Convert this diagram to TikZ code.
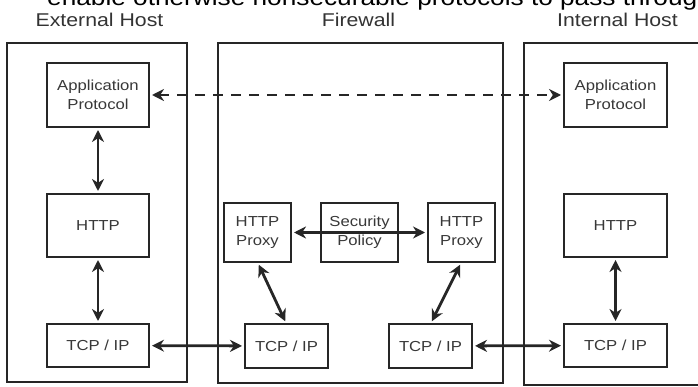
\documentclass[tikz,border=0pt]{standalone}
\usepackage{fontspec}
\setmainfont{Liberation Sans}[FakeStretch=1.15]
\usepackage{xcolor}
\definecolor{linecolor}{HTML}{262626}
\definecolor{textcolor}{HTML}{383838}
\definecolor{titlecolor}{HTML}{333333}
\usetikzlibrary{positioning,arrows.meta}
\tikzset{
    hostbox/.style={
        rectangle,
        draw=linecolor,
        line width=2.2pt,
        inner sep=0pt,
        outer sep=0pt,
    },
    layer/.style={
        rectangle,
        draw=linecolor,
        fill=white,
        text=textcolor,
        line width=2.6pt,
        inner sep=0pt,
        outer sep=0pt,
        align=center,
        font=\fontsize{14.5}{19}\selectfont,
    },
    title/.style={
        text=titlecolor,
        anchor=base,
        inner sep=0pt,
        font=\fontsize{18.5}{22}\selectfont,
    },
    link/.style={
        {Stealth[length=12pt,width=12pt]}-{Stealth[length=12pt,width=12pt]},
        line width=2.8pt,
        linecolor,
        shorten <=3pt,
        shorten >=3pt,
    },
    tunnel/.style={
        link,
        dash pattern=on 10pt off 8pt,
    },
}

\begin{document}
\begin{tikzpicture}[x=1pt,y=-1pt]
    \useasboundingbox (0,0) rectangle (698,387);
    \begin{scope}
    \clip (0,0) rectangle (698,387);

    \node[anchor=base west, inner sep=0pt, font=\fontsize{22.8}{26}\selectfont] (caption) at (47,6) {enable otherwise nonsecurable protocols to pass through};

    \node[title] (exttitle) at (99.5,27) {External Host};
    \node[title] (fwtitle) at (358.5,27) {Firewall};
    \node[title] (inttitle) at (617.5,27) {Internal Host};

    \node[hostbox, minimum width=180pt, minimum height=339pt] (exthost) at (97,212.5) {};
    \node[hostbox, minimum width=285pt, minimum height=340pt] (fwhost) at (360.5,213) {};
    \node[hostbox, minimum width=200pt, minimum height=342pt] (inthost) at (624,214) {};

    \node[layer, minimum width=102pt, minimum height=64pt] (extapp) at (98,95) {Application\\Protocol};
    \node[layer, minimum width=102pt, minimum height=63pt] (exthttp) at (98,225.5) {HTTP};
    \node[layer, minimum width=102pt, minimum height=43pt] (exttcp) at (98,345.5) {TCP / IP};

    \node[layer, minimum width=103pt, minimum height=64pt] (intapp) at (615.5,95) {Application\\Protocol};
    \node[layer, minimum width=103pt, minimum height=63pt] (inthttp) at (615.5,225.5) {HTTP};
    \node[layer, minimum width=103pt, minimum height=43pt] (inttcp) at (615.5,345.5) {TCP / IP};

    \node[layer, minimum width=67pt, minimum height=59pt] (proxyl) at (257.5,232.5) {HTTP\\Proxy};
    \node[layer, minimum width=77pt, minimum height=59pt] (policy) at (359.5,232.5) {Security\\Policy};
    \node[layer, minimum width=67pt, minimum height=59pt] (proxyr) at (461.5,232.5) {HTTP\\Proxy};
    \node[layer, minimum width=83pt, minimum height=44pt] (fwtcpl) at (286.5,346) {TCP / IP};
    \node[layer, minimum width=83pt, minimum height=44pt] (fwtcpr) at (430.5,346) {TCP / IP};

    \draw[tunnel] (extapp) -- (intapp);
    \draw[link] (extapp) -- (exthttp);
    \draw[link] (exthttp) -- (exttcp);
    \draw[link] (inthttp) -- (inttcp);
    \draw[link] (exttcp) -- (fwtcpl);
    \draw[link] (fwtcpr) -- (inttcp);
    \draw[link] (proxyl.east) -- (proxyr.west);
    \draw[link] (proxyl.south) -- (fwtcpl.north);
    \draw[link] (proxyr.south) -- (fwtcpr.north);
    \end{scope}
\end{tikzpicture}
\end{document}
